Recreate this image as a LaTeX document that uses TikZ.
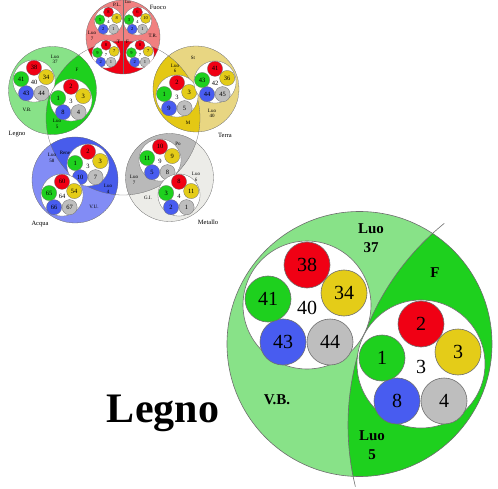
\documentclass[tikz,border=0pt]{standalone}
\usepackage{fontspec}
\setmainfont{Liberation Serif}
\definecolor{cR}{RGB}{240,0,20}
\definecolor{cY}{RGB}{228,204,24}
\definecolor{cG}{RGB}{190,190,190}
\definecolor{cB}{RGB}{72,92,240}
\definecolor{cN}{RGB}{30,208,30}
\definecolor{lnc}{RGB}{110,110,110}
\definecolor{legL}{RGB}{136,226,136}
\definecolor{legD}{RGB}{30,208,30}
\definecolor{terL}{RGB}{232,214,130}
\definecolor{terD}{RGB}{228,200,20}
\definecolor{acqL}{RGB}{130,140,245}
\definecolor{acqD}{RGB}{72,92,235}
\definecolor{metL}{RGB}{236,236,232}
\definecolor{metD}{RGB}{185,185,185}
\definecolor{fuoL}{RGB}{240,128,128}
\definecolor{fuoD}{RGB}{240,0,20}
\def\gf{\fontsize{20}{20}\selectfont}
\def\lw{0.6pt}
\def\cyr{77}
\tikzset{
  ln/.style={draw=lnc,line width=\lw},
  num/.style={font=\gf,inner sep=0pt},
  lab/.style={font=\fontsize{5}{5.5}\selectfont,align=center,inner sep=0pt},
  blab/.style={font=\bfseries\fontsize{15}{19}\selectfont,align=center,inner sep=0pt}
}
% #1 name, #2 centre, #3 scale, #4 red, #5 green, #6 yellow, #7 blue, #8 grey, #9 centre number
\newcommand\grp[9]{%
  \begin{scope}[shift={#2},scale=#3]
    \filldraw[ln,fill=white] (0,0) circle (64);
    \filldraw[ln,fill=cR] (0,-40) circle (23);
    \filldraw[ln,fill=cY] (37,-12) circle (23);
    \filldraw[ln,fill=cG] (23,37) circle (23);
    \filldraw[ln,fill=cB] (-24,37) circle (23);
    \filldraw[ln,fill=cN] (-39,-6) circle (23);
    \node[num] (#1-r) at (0,-40) {#4};
    \node[num] (#1-n) at (-39,-6) {#5};
    \node[num] (#1-y) at (37,-12) {#6};
    \node[num] (#1-b) at (-24,37) {#7};
    \node[num] (#1-g) at (23,37) {#8};
    \node[num] (#1-c) at (0,3) {#9};
  \end{scope}}
% #1 name, #2 centre, #3 radius, #4 light, #5 dark
\newcommand\elem[5]{%
  \coordinate (#1) at #2;
  \begin{scope}
    \clip #2 circle (#3);
    \fill[#4] #2 circle (#3);
    \fill[#5] (P) circle (\cyr);
  \end{scope}
  \draw[ln] #2 circle (#3);}
\begin{document}
\begin{tikzpicture}[x=1pt,y=-1pt]
\useasboundingbox (0,0) rectangle (498,489);
\coordinate (P) at (123,118);
% ---------- small diagram ----------
\def\lw{0.3pt}
\elem{legno}{(52.5,90.5)}{44}{legL}{legD}
\elem{terra}{(196,89)}{43}{terL}{terD}
\elem{acqua}{(75,180)}{43}{acqL}{acqD}
\elem{metallo}{(169.5,177.5)}{44}{metL}{metD}
\elem{fuoco}{(123,37)}{37}{fuoL}{fuoD}
\draw[ln] (P) circle (\cyr);
\def\gf{\fontsize{6.5}{6.5}\selectfont}
\grp{la}{(34,81)}{0.33}{38}{41}{34}{43}{44}{40}
\grp{lb}{(71,100)}{0.33}{2}{1}{3}{8}{4}{3}
\grp{ta}{(177,96)}{0.33}{2}{1}{3}{9}{5}{3}
\grp{tb}{(215,82)}{0.33}{41}{43}{36}{44}{45}{42}
\grp{aa}{(88,165)}{0.33}{2}{1}{3}{10}{7}{3}
\grp{ab}{(62,195)}{0.33}{60}{65}{54}{66}{67}{64}
\grp{ma}{(160,160)}{0.33}{10}{11}{9}{5}{8}{9}
\grp{mb}{(179,195)}{0.33}{8}{3}{11}{2}{1}{4}
\def\gf{\fontsize{4.5}{4.5}\selectfont}
\begin{scope}
  \clip (fuoco) circle (37);
  \grp{fc}{(106,54)}{0.22}{8}{9}{7}{2}{1}{7}
  \grp{fd}{(140,54)}{0.22}{8}{9}{7}{2}{1}{7}
\end{scope}
\grp{fa}{(108.5,21)}{0.22}{8}{5}{8}{2}{1}{4}
\grp{fb}{(137.5,21)}{0.22}{6}{3}{10}{2}{1}{4}
\draw[ln] (fuoco) ++(0,-37) -- ++(0,74);
\node[lab] (l1) at (55,59.5) {Luo\\37};
\node[lab] (l2) at (77,70) {F};
\node[lab] (l3) at (27,110) {V.B.};
\node[lab] (l4) at (57,124) {Luo\\5};
\node[lab,font=\fontsize{6.5}{7}\selectfont] (l5) at (17,134) {Legno};
\node[lab] (t1) at (193,58) {St};
\node[lab] (t2) at (175,68.5) {Luo\\6};
\node[lab] (t3) at (212,113.5) {Luo\\40};
\node[lab] (t4) at (188,123) {M};
\node[lab,font=\fontsize{6.5}{7}\selectfont] (t5) at (225,135) {Terra};
\node[lab] (a1) at (65,153) {Rene};
\node[lab] (a2) at (52,158) {Luo\\58};
\node[lab] (a3) at (108,189) {Luo\\4};
\node[lab] (a4) at (94,207) {V.U.};
\node[lab,font=\fontsize{6.5}{7}\selectfont] (a5) at (40,224) {Acqua};
\node[lab] (m1) at (178,144) {Po};
\node[lab] (m2) at (196,177) {Luo\\6};
\node[lab] (m3) at (134,180) {Luo\\7};
\node[lab] (m4) at (148,198) {G.I.};
\node[lab,font=\fontsize{6.5}{7}\selectfont] (m5) at (208,222) {Metallo};
\node[lab] (f1) at (117,5) {P.L.};
\node[lab,font=\fontsize{4}{4.5}\selectfont] (f5) at (128,2.5) {Luo};
\node[lab] (f2) at (153,36) {T.R.};
\node[lab] (f3) at (92,36) {Luo\\7};
\node[lab] (f6) at (118.5,42) {T};
\node[lab] (f7) at (127.5,42) {F};
\node[lab,font=\fontsize{6.5}{7}\selectfont] (f4) at (158,7) {Fuoco};
% ---------- large Legno ----------
\def\lw{0.6pt}
\coordinate (O) at (359.5,344);
\coordinate (Cb) at (607.7,425.2);
\begin{scope}
  \clip (O) circle (132.5);
  \fill[legL] (O) circle (132.5);
  \fill[legD] (Cb) circle (259.7);
\end{scope}
\draw[ln] (O) circle (132.5);
\draw[ln] (Cb) ++(166.3:259.7) arc[start angle=166.3,end angle=231,radius=259.7];
\def\gf{\fontsize{20}{20}\selectfont}
\grp{LA}{(307,305)}{1}{38}{41}{34}{43}{44}{40}
\grp{LB}{(421,364)}{1}{2}{1}{3}{8}{4}{3}
\node[blab] (L1) at (371,238.5) {Luo\\37};
\node[blab] (L2) at (435,273) {F};
\node[blab] (L3) at (277,400) {V.B.};
\node[blab] (L4) at (372,445) {Luo\\5};
\node[font=\bfseries\fontsize{42}{42}\selectfont,inner sep=0pt] (L5) at (163,413) {Legno};
\end{tikzpicture}
\end{document}
